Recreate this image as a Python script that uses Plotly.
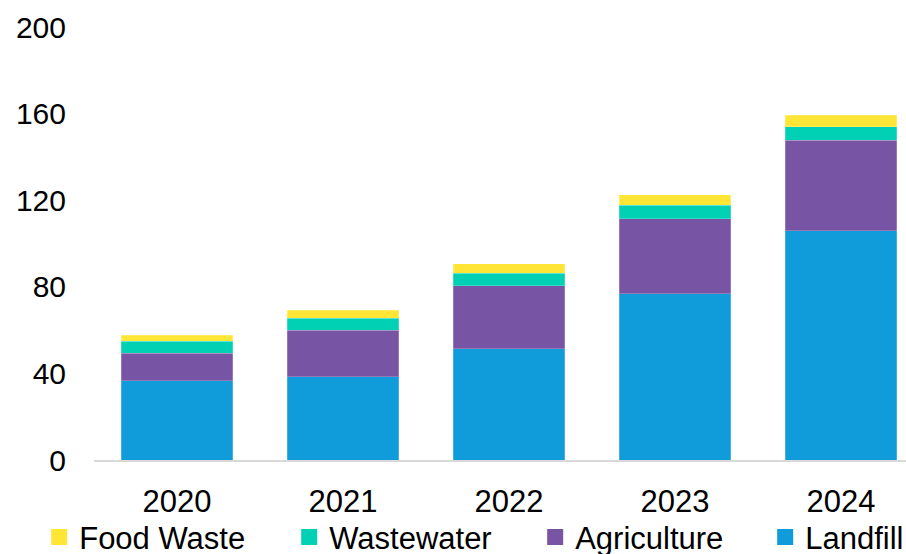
import plotly.graph_objects as go

years = ["2020", "2021", "2022", "2023", "2024"]
landfill = [36.7, 38.4, 51.5, 76.7, 105.9]
agriculture = [12.6, 21.6, 28.9, 34.7, 41.7]
wastewater = [5.5, 5.5, 5.8, 6.2, 6.4]
food_waste = [2.8, 3.7, 4.5, 4.9, 5.3]

series_names = ["Landfill", "Agriculture", "Wastewater", "Food Waste"]
series_values = [landfill, agriculture, wastewater, food_waste]
colors = {"Landfill": "#109BDA", "Agriculture": "#7854A4",
          "Wastewater": "#00D1B5", "Food Waste": "#FFE536"}
legend_order = ["Food Waste", "Wastewater", "Agriculture", "Landfill"]
legend_widths = {"Food Waste": 205, "Wastewater": 201, "Agriculture": 185, "Landfill": 0}

FONT = "Liberation Sans, Arial, sans-serif"

fig = go.Figure()
for name, vals in zip(series_names, series_values):
    fig.add_trace(go.Bar(
        x=years, y=vals, name=name, showlegend=False,
        marker=dict(color=colors[name], line=dict(width=0.6, color="rgba(255,255,255,0.35)")),
        width=0.67,
    ))

for name in legend_order:
    fig.add_trace(go.Scatter(
        x=[None], y=[None], mode="markers", name=name,
        marker=dict(symbol="square", size=16, color=colors[name]),
        legendwidth=legend_widths[name] if legend_widths[name] else None,
        hoverinfo="skip",
    ))

fig.update_layout(
    width=906, height=554,
    barmode="stack",
    paper_bgcolor="white", plot_bgcolor="white",
    margin=dict(l=94, r=0, t=27, b=94, autoexpand=False),
    font=dict(family=FONT, color="black"),
    xaxis=dict(
        range=[-0.5, 4.392], showgrid=False, showline=True,
        linecolor="#d9d9d9", linewidth=1.5, ticks="",
        tickfont=dict(size=31, family=FONT, color="black"),
        ticklabelstandoff=13,
    ),
    yaxis=dict(
        range=[0, 200], dtick=40, tick0=0, showgrid=False, zeroline=False,
        showline=False, ticks="",
        tickfont=dict(size=30, family=FONT, color="black"),
        ticklabelstandoff=27,
    ),
    legend=dict(
        orientation="h", x=-0.0675, xanchor="left", y=-0.116, yanchor="top",
        traceorder="normal",
        font=dict(size=31, family=FONT, color="black"),
        itemwidth=30, bgcolor="rgba(0,0,0,0)", tracegroupgap=0,
    ),
)

fig.write_html("out.html", config={"displayModeBar": False},
               post_script="document.body.style.margin='0';")
